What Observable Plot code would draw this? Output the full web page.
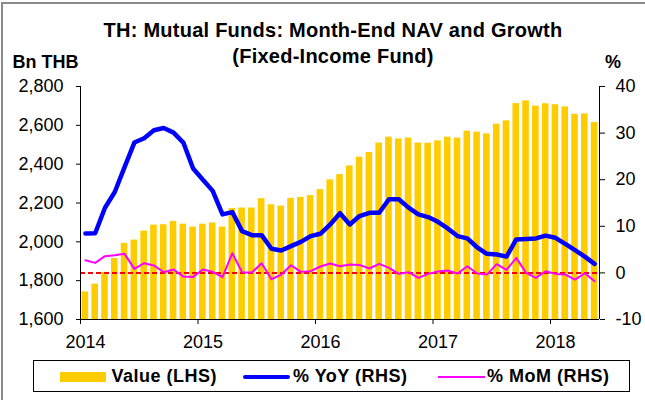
<!DOCTYPE html>
<html>
<head>
<meta charset="utf-8">
<script src="https://cdn.jsdelivr.net/npm/d3@7"></script>
<script src="https://cdn.jsdelivr.net/npm/@observablehq/plot@0.6"></script>
<style>
  body { margin: 0; background: #fff; }
  #wrap { position: relative; width: 645px; height: 400px; overflow: hidden;
          font-family: "Liberation Sans", Arial, sans-serif; color: #000; background: #fff; }
  #frame { position: absolute; left: 1px; top: 2px; width: 700px; height: 450px;
           border-left: 2px solid #8a8a8a; border-top: 2px solid #8a8a8a; }
  #title { position: absolute; left: 0; top: 16.5px; width: 666px; text-align: center;
           font-size: 20px; font-weight: bold; line-height: 26.6px; letter-spacing: 0.25px; }
  .unit { position: absolute; top: 53px; font-size: 18px; font-weight: bold; line-height: 18px; }
  #chart { position: absolute; left: 0; top: 0; }
  #legendBox { position: absolute; left: 33px; top: 360px; width: 597px; height: 32px;
               box-sizing: border-box; border: 1.5px solid #000; }
  .lg { position: absolute; top: 367px; font-size: 18px; font-weight: bold; line-height: 18px;
        letter-spacing: 0.5px; white-space: nowrap; }
  .sw { position: absolute; }
</style>
</head>
<body>
<div id="wrap">
  <div id="frame"></div>
  <div id="chart"></div>
  <div id="title">TH: Mutual Funds: Month-End NAV and Growth<br>(Fixed-Income Fund)</div>
  <div class="unit" style="left:12.5px">Bn THB</div>
  <div class="unit" style="left:605px">%</div>
  <div id="legendBox"></div>
  <div class="sw" style="left:60px;top:372px;width:46px;height:10px;background:#FFCC00"></div>
  <div class="lg" style="left:111.5px">Value (LHS)</div>
  <div class="sw" style="left:243px;top:374.7px;width:47px;height:4px;background:#0000FF;border-radius:2px"></div>
  <div class="lg" style="left:293px">% YoY (RHS)</div>
  <div class="sw" style="left:438px;top:375.7px;width:47px;height:2px;background:#FF00FF"></div>
  <div class="lg" style="left:487px">% MoM (RHS)</div>
</div>
<script>
// Month categories: Jan 2014 .. May 2018
const months = d3.utcMonth.range(new Date(Date.UTC(2014, 0, 1)), new Date(Date.UTC(2018, 5, 1)));

// Month-end NAV, Bn THB (LHS)
const navValue = [1742, 1782, 1843, 1914, 1992, 2009, 2055, 2086, 2088, 2105,
                  2091, 2076, 2091, 2097, 2076, 2171, 2174, 2174, 2222, 2191,
                  2184, 2224, 2229, 2238, 2269, 2319, 2346, 2391, 2436, 2460,
                  2509, 2539, 2530, 2535, 2509, 2508, 2520, 2539, 2534, 2570,
                  2565, 2556, 2606, 2623, 2712, 2726, 2699, 2711, 2706, 2695,
                  2657, 2659, 2614];

// % YoY (RHS)
const yoyPct = [8.47, 8.5, 13.98, 17.35, 22.7, 27.97, 28.9, 30.6, 31.1, 30.1,
                27.97, 22.4, 20.0, 17.6, 12.55, 13.05, 8.96, 8.1, 8.1, 5.17,
                4.8, 5.74, 6.67, 7.9, 8.4, 10.4, 12.8, 10.4, 12.2, 12.9,
                12.9, 15.8, 15.8, 14.0, 12.55, 11.98, 10.97, 9.54, 7.9, 7.4,
                5.5, 4.1, 3.95, 3.5, 7.17, 7.3, 7.4, 8.0, 7.53, 6.24,
                4.88, 3.5, 1.94];

// % MoM (RHS)
const momPct = [2.73, 2.15, 3.59, 3.8, 4.09, 0.87, 2.08, 1.58, 0.15, 0.72,
                -0.79, -0.86, 0.72, 0.22, -0.93, 4.23, 0.15, 0.08, 2.08, -1.36,
                -0.36, 1.65, 0.22, 0.36, 1.37, 2.0, 1.44, 1.8, 1.72, 0.94,
                1.94, 1.08, -0.21, 0.15, -1.07, -0.21, 0.29, 0.5, -0.14, 1.44,
                -0.14, -0.36, 1.87, 0.65, 3.23, 0.0, -1.07, 0.36, -0.21, -0.36,
                -1.43, -0.07, -1.79];

// Axis ticks
const lhsTicks = [1600, 1800, 2000, 2200, 2400, 2600, 2800];
const rhsTicks = [-10, 0, 10, 20, 30, 40];
const yearLabels = ["2014", "2015", "2016", "2017", "2018"];
const refPct = [0];

const lhsMin = lhsTicks[0], lhsMax = lhsTicks[lhsTicks.length - 1];
const rhsMin = rhsTicks[0], rhsMax = rhsTicks[rhsTicks.length - 1];
const toL = p => lhsMin + (p - rhsMin) * (lhsMax - lhsMin) / (rhsMax - rhsMin);
const fromL = v => Math.round((v - lhsMin) * (rhsMax - rhsMin) / (lhsMax - lhsMin) + rhsMin);

const data = months.map((m, i) => ({i, m, v: navValue[i], yoy: toL(yoyPct[i]), mom: toL(momPct[i])}));
const yearStarts = yearLabels.map((y, k) => months.findIndex(m => m.getUTCFullYear() === +y));

const chart = Plot.plot({
  width: 645, height: 360,
  marginLeft: 80, marginRight: 46, marginTop: 86, marginBottom: 41,
  style: {fontFamily: "'Liberation Sans', Arial, sans-serif", fontSize: "18px", color: "#000",
          background: "transparent", overflow: "visible"},
  x: {type: "linear", domain: [-0.5, months.length - 0.5], axis: null},
  y: {domain: [lhsMin, lhsMax], axis: null},
  marks: [
    Plot.rectY(data, {x1: d => d.i - 0.5, x2: d => d.i + 0.5, y1: () => lhsMin, y2: "v",
                      fill: "#FFCC00", insetLeft: 1.6, insetRight: 1.6}),
    Plot.ruleY(refPct.map(toL), {stroke: "#FF0000", strokeWidth: 2, strokeDasharray: "5,3"}),
    Plot.line(data, {x: "i", y: "mom", stroke: "#FF00FF", strokeWidth: 2}),
    Plot.line(data, {x: "i", y: "yoy", stroke: "#0000FF", strokeWidth: 4.5}),
    Plot.ruleX([-0.5, months.length - 0.5], {stroke: "#000"}),
    Plot.ruleY([lhsMin], {stroke: "#000"}),
    Plot.axisY(lhsTicks, {anchor: "left", tickSize: 4, tickPadding: 13,
                          tickFormat: d3.format(","), label: null}),
    Plot.axisY(rhsTicks.map(toL), {anchor: "right", tickSize: 5, tickPadding: 11,
                                   tickFormat: d => String(fromL(d)), label: null}),
    Plot.axisX(yearStarts.map(i => i - 0.5), {anchor: "bottom", tickSize: 5, tickFormat: () => "", label: null}),
    Plot.axisX(yearStarts, {anchor: "bottom", tickSize: 0, tickPadding: 16,
                            tickFormat: d => yearLabels[yearStarts.indexOf(d)], label: null})
  ]
});
document.getElementById("chart").appendChild(chart);
</script>
</body>
</html>
